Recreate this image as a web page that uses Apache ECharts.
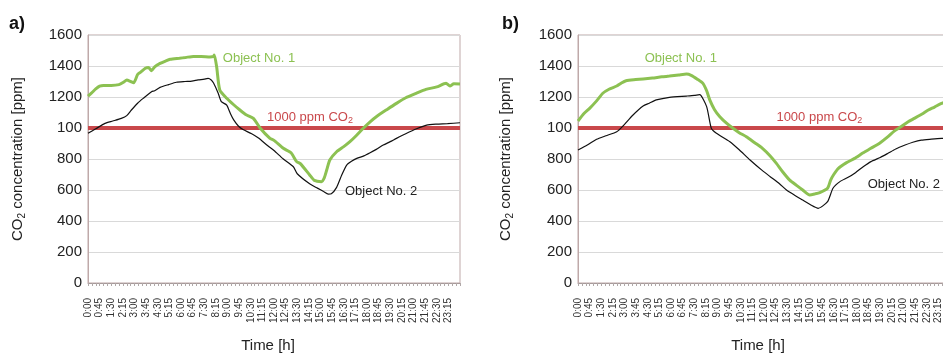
<!DOCTYPE html>
<html>
<head>
<meta charset="utf-8">
<script src="https://cdn.jsdelivr.net/npm/echarts@6/dist/echarts.min.js"></script>
<style>
html,body{margin:0;padding:0;background:#fff;}
#chart{width:943px;height:353px;}
</style>
</head>
<body>
<div id="chart"></div>
<script>
// ---- data ----
const xTickLabels = ['0:00','0:45','1:30','2:15','3:00','3:45','4:30','5:15','6:00','6:45','7:30','8:15','9:00','9:45','10:30','11:15','12:00','12:45','13:30','14:15','15:00','15:45','16:30','17:15','18:00','18:45','19:30','20:15','21:00','21:45','22:30','23:15'];
const yTickValues = [0, 200, 400, 600, 800, 1000, 1200, 1400, 1600];
const yTickLabels = ['0', '200', '400', '600', '800', '100', '1200', '1400', '1600'];
const thresholdValue = 1000;

// Panel a) Object No. 1 (hours, ppm)
const hoursA1 = [0,0.25,0.5,0.75,1.0,1.5,2.0,2.3,2.5,2.75,2.95,3.2,3.4,3.7,3.9,4.1,4.3,4.65,5.0,5.3,5.9,6.3,6.8,7.3,7.87,8.1,8.15,8.3,8.5,8.95,9.4,9.8,10.2,10.67,11.1,11.74,12.0,12.6,13.1,13.46,13.7,14.3,14.6,15.06,15.25,15.4,15.6,16.04,16.5,16.9,17.3,17.76,18.2,18.6,19.3,19.9,20.5,21.2,21.8,22.5,23.1,23.35,23.6,24];
const co2A1   = [1205,1228,1252,1270,1275,1275,1280,1296,1310,1300,1292,1345,1360,1385,1390,1370,1395,1417,1432,1443,1450,1455,1462,1462,1458,1462,1471,1395,1245,1192,1150,1116,1085,1062,1000,933,920,869,840,783,770,697,662,654,680,729,794,847,880,912,950,998,1040,1073,1120,1159,1195,1225,1249,1265,1288,1271,1285,1284];
// Panel a) Object No. 2
const hoursA2 = [0,0.5,1.1,1.6,2.15,2.5,2.8,3.2,3.56,4.1,4.3,4.65,5.2,5.7,6.26,6.7,7.1,7.5,7.75,7.95,8.1,8.4,8.6,8.95,9.2,9.4,9.7,10.0,10.56,11.0,11.6,12.0,12.6,13.25,13.5,14.3,14.8,15.2,15.5,15.7,16.04,16.37,16.69,17.0,17.34,17.8,18.2,18.6,19.05,19.5,19.9,20.5,21.2,21.85,22.5,23.2,24];
const co2A2   = [966,995,1030,1045,1062,1080,1116,1160,1191,1234,1240,1262,1280,1295,1300,1303,1310,1315,1320,1310,1290,1224,1170,1148,1090,1052,1013,990,963,935,885,855,800,750,705,640,612,590,574,576,617,697,761,785,804,820,840,862,890,912,933,963,995,1019,1025,1028,1034];
// Panel b) Object No. 1
const hoursB1 = [0,0.4,0.75,1.2,1.6,2.0,2.5,2.8,3.1,3.6,4.2,4.8,5.4,5.9,6.5,7.0,7.3,7.7,8.06,8.3,8.5,8.8,9.15,9.6,10.0,10.4,10.86,11.4,11.9,12.4,12.8,13.2,13.66,14.1,14.5,14.95,15.3,15.6,16.1,16.3,16.5,16.8,17.3,17.85,18.4,18.9,19.5,20.0,20.4,20.86,21.3,21.7,22.2,22.6,23.0,23.45,24];
const co2B1   = [1045,1095,1127,1175,1224,1250,1271,1290,1305,1312,1316,1322,1330,1335,1342,1348,1340,1315,1288,1240,1181,1120,1073,1030,998,970,944,905,869,820,772,718,664,630,600,568,575,583,611,664,700,740,775,804,840,869,905,944,980,1009,1040,1062,1090,1116,1135,1159,1175];
// Panel b) Object No. 2
const hoursB2 = [0,0.6,1.2,1.8,2.5,2.9,3.55,4.2,4.6,5.05,5.9,7.0,7.5,7.85,8.3,8.6,8.93,9.8,10.4,11.1,11.9,12.4,13.0,13.45,14.0,14.5,15.0,15.5,16.1,16.45,16.9,17.4,17.9,18.4,18.9,19.5,20.0,20.5,21.1,21.6,22.15,22.8,23.45,24];
const co2B2   = [858,890,927,950,976,1013,1084,1142,1160,1181,1198,1206,1210,1215,1138,998,966,912,860,794,725,686,640,600,565,535,505,482,525,611,654,680,712,750,783,810,837,865,890,908,922,928,933,935];

// annotation anchors in data coordinates [hour, ppm]
const labelPosA = { obj1: [8.7, 1452], limit: [11.55, 1068], obj2: [16.58, 589] };
const labelPosB = { obj1: [4.3, 1452], limit: [12.8, 1068], obj2: [18.69, 639] };

// ---- chart ----
const FONT = "'Liberation Sans', Arial, sans-serif";
const GREEN = '#8cc152';
const RED = '#c9484b';
const pair = (h, v) => h.map((t, i) => [t, v[i]]);

function xAxisFor(gi) {
  return {
    type: 'value', gridIndex: gi, min: 0, max: 24, interval: 0.25,
    name: 'Time [h]', nameLocation: 'middle', nameGap: 55,
    nameTextStyle: { fontFamily: FONT, fontSize: 15, color: '#222', padding: [0, 12, 0, 0] },
    axisLine: { show: true, lineStyle: { color: '#a89a9a', width: 1 } },
    axisTick: { show: true, length: 3, lineStyle: { color: '#b0a8a8' } },
    splitLine: { show: false },
    axisLabel: {
      rotate: 90, margin: 15, fontFamily: FONT, fontSize: 10, color: '#333',
      formatter: function (v) {
        const q = Math.round(v * 4);
        if (q % 3 !== 0 || v >= 24) return '';
        const idx = q / 3;
        return xTickLabels[idx] || '';
      }
    }
  };
}
function yAxisFor(gi, gap) {
  return {
    type: 'value', gridIndex: gi, min: 0, max: 1600, interval: 200,
    name: 'CO{s|2} concentration [ppm]', nameLocation: 'middle', nameGap: gap, nameRotate: 90,
    nameTextStyle: {
      fontFamily: FONT, fontSize: 15, color: '#222', lineHeight: 18,
      rich: { s: { fontFamily: FONT, fontSize: 10, color: '#222', verticalAlign: 'bottom', lineHeight: 10 } }
    },
    axisLine: { show: true, lineStyle: { color: '#bfa9a9' } },
    axisTick: { show: false },
    splitLine: { show: true, lineStyle: { color: '#d9d9d9', width: 1 } },
    axisLabel: {
      margin: 6, fontFamily: FONT, fontSize: 15, color: '#222',
      formatter: function (v) {
        const i = yTickValues.indexOf(v);
        return i >= 0 ? yTickLabels[i] : '';
      }
    }
  };
}
function seriesFor(gi, d1, d2) {
  return [
    { type: 'line', xAxisIndex: gi, yAxisIndex: gi, data: [[0, thresholdValue], [24, thresholdValue]],
      showSymbol: false, silent: true, z: 1, lineStyle: { color: RED, width: 4 } },
    { type: 'line', xAxisIndex: gi, yAxisIndex: gi, data: d2, showSymbol: false, smooth: 0.2, z: 3,
      lineStyle: { color: '#111', width: 1.2 } },
    { type: 'line', xAxisIndex: gi, yAxisIndex: gi, data: d1, showSymbol: false, smooth: 0.2, z: 4,
      lineStyle: { color: GREEN, width: 3 } }
  ];
}

const chart = echarts.init(document.getElementById('chart'), null, { renderer: 'canvas' });
chart.setOption({
  animation: false,
  backgroundColor: '#fff',
  grid: [
    { left: 88, top: 35, width: 372, height: 248, outerBoundsMode: 'none', containLabel: false, show: true, borderColor: '#bfa9a9', borderWidth: 1, backgroundColor: 'transparent' },
    { left: 578, top: 35, width: 372, height: 248, outerBoundsMode: 'none', containLabel: false, show: true, borderColor: '#bfa9a9', borderWidth: 1, backgroundColor: 'transparent' }
  ],
  xAxis: [xAxisFor(0), xAxisFor(1)],
  yAxis: [yAxisFor(0, 61), yAxisFor(1, 63)],
  series: seriesFor(0, pair(hoursA1, co2A1), pair(hoursA2, co2A2))
    .concat(seriesFor(1, pair(hoursB1, co2B1), pair(hoursB2, co2B2)))
});

function txt(gi, pos, text, color, rich) {
  const p = chart.convertToPixel({ gridIndex: gi }, pos);
  return {
    type: 'text', x: p[0], y: p[1], z: 10,
    style: { text: text, fill: color, font: '13px ' + FONT, align: 'left', verticalAlign: 'middle', rich: rich }
  };
}
const subRich = { s: { fontSize: 9, fill: RED, fontFamily: FONT, verticalAlign: 'bottom', lineHeight: 9 }, m: { fontSize: 13, fill: RED, fontFamily: FONT, lineHeight: 16 } };
chart.setOption({
  graphic: [
    { type: 'text', x: 9, y: 24, style: { text: 'a)', fill: '#111', font: 'bold 18px ' + FONT, verticalAlign: 'middle' } },
    { type: 'text', x: 502, y: 24, style: { text: 'b)', fill: '#111', font: 'bold 18px ' + FONT, verticalAlign: 'middle' } },
    txt(0, labelPosA.obj1, 'Object No. 1', GREEN),
    txt(0, labelPosA.limit, '{m|1000 ppm CO}{s|2}', RED, subRich),
    txt(0, labelPosA.obj2, 'Object No. 2', '#222'),
    txt(1, labelPosB.obj1, 'Object No. 1', GREEN),
    txt(1, labelPosB.limit, '{m|1000 ppm CO}{s|2}', RED, subRich),
    txt(1, labelPosB.obj2, 'Object No. 2', '#222')
  ]
});
</script>
</body>
</html>
